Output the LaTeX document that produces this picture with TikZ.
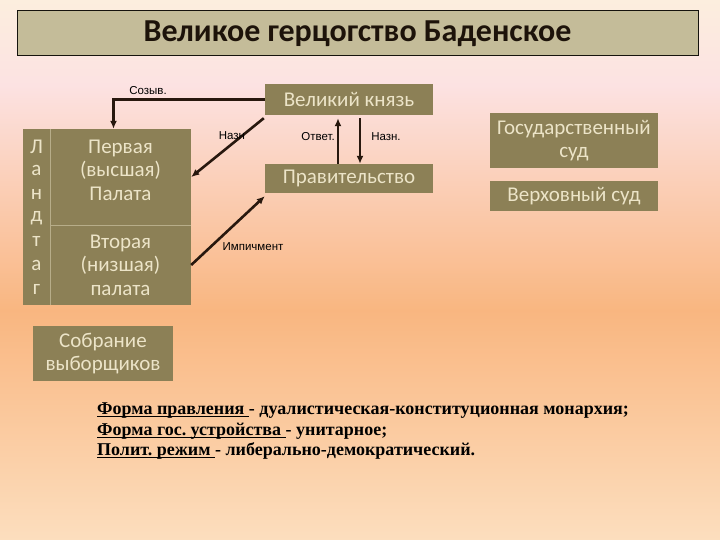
\documentclass[tikz,border=0pt]{standalone}
\usepackage{fontspec}
\setmainfont{Carlito}
\newfontfamily\lblfont{Liberation Sans}
\newfontfamily\notefont{Liberation Serif}
\usetikzlibrary{positioning,arrows.meta}
\frenchspacing

\definecolor{olive}{RGB}{140,128,86}
\definecolor{cream}{RGB}{236,228,200}
\definecolor{khaki}{RGB}{196,188,153}
\definecolor{arrowbrown}{RGB}{40,24,14}
\definecolor{bgtop}{RGB}{252,238,222}
\definecolor{bgpink}{RGB}{252,226,226}
\definecolor{bgorange}{RGB}{249,182,128}
\definecolor{bgbottom}{RGB}{252,222,190}

% underline close to the baseline
\newsavebox\undlbox
\newcommand\undl[1]{\sbox\undlbox{#1}\rlap{\rule[-2.4pt]{\wd\undlbox}{1pt}}\usebox\undlbox}

\tikzset{
  organ/.style={fill=olive, text=cream, inner sep=0pt},
  organtext/.style={text=cream, align=center, inner sep=0pt,
    font=\fontsize{21}{23.5}\selectfont},
  sep/.style={draw=olive!55!cream, line width=.8pt},
  arr/.style={draw=arrowbrown, line width=2.6pt, -{Latex[length=8pt,width=7pt]}},
  lbl/.style={font=\lblfont\fontsize{11.5}{12}\selectfont, inner sep=0pt, text=black},
}

\begin{document}
\begin{tikzpicture}[x=1pt,y=-1pt]
\useasboundingbox (0,0) rectangle (720,540);

% background
\shade[top color=bgtop, bottom color=bgpink] (0,0) rectangle (720,86);
\shade[top color=bgpink, bottom color=bgorange] (0,85) rectangle (720,311);
\shade[top color=bgorange, bottom color=bgbottom] (0,310) rectangle (720,540);

\node[draw=black!85!olive, line width=1pt, fill=khaki, minimum width=681pt,
  minimum height=45pt, inner sep=0pt, text=black!85!brown,
  font=\bfseries\fontsize{32}{34}\selectfont] (title) at (357.5,33.5)
  {Великое герцогство Баденское};

\node[organ, organtext, minimum width=168pt, minimum height=31pt] (knyaz) at (349,99.5) {Великий князь};
\node[organ, organtext, minimum width=168pt, minimum height=29pt] (govt) at (349,178.5) {Правительство};
\node[organ, organtext, minimum width=168pt, minimum height=55pt] (gossud) at (574,140.5) {Государственный\\суд};
\node[organ, organtext, minimum width=168pt, minimum height=30pt] (vsud) at (574,196) {Верховный суд};
\node[organ, organtext, minimum width=140pt, minimum height=55pt] (sobr) at (103,353.5) {Собрание\\выборщиков};

% Landtag
\node[organ, minimum width=27pt, minimum height=176pt] (landtag) at (36.5,217) {};
\node[organ, minimum width=141pt, minimum height=96pt] (upper) at (120.5,177) {};
\node[organ, organtext, minimum width=141pt, minimum height=80pt] (lower) at (120.5,265) {Вторая\\(низшая)\\палата};
\node[organtext] (uppertext) at ([yshift=7pt]upper.center) {Первая\\(высшая)\\Палата};
\foreach \ch [count=\i] in {Л,а,н,д,т,а,г}{% letters of the column
    \node[organtext] (let\i) at (36.5,147+23.7*\i-23.7) {\ch};}
\draw[sep] (landtag.north east) -- (landtag.south east);
\draw[sep] (upper.south west) -- (upper.south east);

\draw[arr] (knyaz.west) -| ([xshift=-7pt]upper.north);
\draw[arr] ([xshift=-1pt,yshift=-3pt]knyaz.south west) -- (upper.east);
\draw[arr] ([xshift=-11pt]govt.north) -- ([xshift=-11pt,yshift=-3pt]knyaz.south);
\draw[arr] ([xshift=11pt,yshift=-3pt]knyaz.south) -- ([xshift=11pt]govt.north);
\draw[arr] (lower.east) -- ([yshift=-3pt]govt.south west);

\node[lbl] (lsozyv) at (148,91) {Созыв.};
\node[lbl] (lnazn) at (232,136) {Назн};
\node[lbl] (lotvet) at (318,137) {Ответ.};
\node[lbl] (lnaznach) at (386,137) {Назн.};
\node[lbl] (limpeach) at (253,247) {Импичмент};

\node[anchor=north west, align=left, inner sep=0pt,
  font=\notefont\bfseries\fontsize{18}{20.5}\selectfont] (notes) at (97,403)
  {\undl{Форма правления }- дуалистическая-конституционная монархия;\\
   \undl{Форма гос. устройства }- унитарное;\\
   \undl{Полит. режим }- либерально-демократический.};
\end{tikzpicture}
\end{document}
